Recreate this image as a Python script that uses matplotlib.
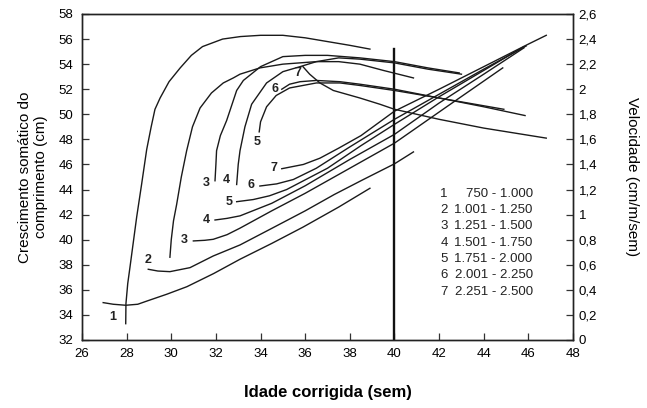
import matplotlib
matplotlib.use("Agg")
import matplotlib.pyplot as plt

plt.rcParams['font.family'] = ['Liberation Sans', 'DejaVu Sans']

# growth curves (cm), left axis
g1_x = [26.95, 27.4, 27.96, 28.5, 28.9, 29.8, 30.7, 31.9, 33.08, 34.5, 35.9, 37.5, 38.9]
g1_y = [34.98, 34.85, 34.77, 34.85, 35.1, 35.65, 36.25, 37.3, 38.44, 39.7, 41.0, 42.6, 44.1]
g2_x = [28.97, 29.4, 29.94, 30.84, 31.88, 33.08, 34.5, 36.0, 37.3, 38.53, 40.0, 40.85]
g2_y = [37.64, 37.5, 37.45, 37.77, 38.7, 39.58, 40.9, 42.3, 43.6, 44.73, 46.05, 47.0]
g3_x = [30.99, 31.5, 31.88, 32.5, 33.08, 34.5, 36.0, 38.0, 40.0, 42.5, 44.85]
g3_y = [39.9, 39.95, 40.03, 40.4, 40.92, 42.3, 43.7, 45.7, 47.7, 50.8, 53.7]
g4_x = [31.96, 32.5, 33.08, 34.5, 36.0, 38.0, 40.0, 42.0, 44.0, 45.8]
g4_y = [41.57, 41.7, 41.9, 42.9, 44.3, 46.4, 48.4, 50.9, 53.2, 55.3]
g5_x = [32.93, 33.67, 34.4, 35.17, 37.0, 38.5, 40.0, 42.0, 44.0, 45.8]
g5_y = [43.03, 43.2, 43.5, 44.0, 45.7, 47.5, 49.2, 51.4, 53.5, 55.4]
g6_x = [33.97, 34.72, 35.47, 36.5, 38.0, 40.0, 42.0, 44.0, 45.9]
g6_y = [44.28, 44.45, 44.8, 45.7, 47.4, 49.6, 51.6, 53.6, 55.45]
g7_x = [34.95, 35.92, 36.66, 37.5, 38.5, 40.0, 42.0, 44.0, 46.0, 46.8]
g7_y = [45.66, 46.0, 46.5, 47.3, 48.3, 50.25, 52.0, 53.8, 55.6, 56.3]

# velocity curves (cm/m/sem), right axis
v1_x = [27.96, 27.97, 28.05, 28.15, 28.3, 28.45, 28.67, 28.9, 29.1, 29.27, 29.5, 29.9, 30.4,
        30.9, 31.4, 32.3, 33.1, 34.0, 35.0, 36.0, 37.0, 38.0, 38.9]
v1_y = [0.13, 0.29, 0.45, 0.58, 0.78, 0.98, 1.24, 1.52, 1.70, 1.84, 1.93, 2.06, 2.17,
        2.27, 2.34, 2.40, 2.42, 2.43, 2.43, 2.41, 2.38, 2.35, 2.32]
v2_x = [29.94, 30.0, 30.1, 30.24, 30.45, 30.69, 30.95, 31.29, 31.8, 32.33, 32.78, 33.08,
        33.97, 35.0, 36.5, 37.5, 38.45, 39.5, 40.85]
v2_y = [0.66, 0.8, 0.95, 1.08, 1.3, 1.51, 1.7, 1.85, 1.97, 2.05, 2.09, 2.12,
        2.17, 2.2, 2.22, 2.22, 2.20, 2.15, 2.09]
v3_x = [31.96, 32.0, 32.03, 32.2, 32.48, 32.93, 33.23, 34.0, 35.0, 36.0, 37.0, 38.45,
        40.0, 41.5, 42.9]
v3_y = [1.27, 1.4, 1.51, 1.63, 1.75, 1.99, 2.07, 2.18, 2.26, 2.27, 2.27, 2.25,
        2.22, 2.17, 2.13]
v4_x = [32.93, 33.0, 33.08, 33.3, 33.6, 34.27, 35.0, 35.77, 36.5, 37.5, 38.45, 40.0,
        41.5, 43.0]
v4_y = [1.24, 1.4, 1.51, 1.7, 1.88, 2.05, 2.14, 2.18, 2.22, 2.25, 2.24, 2.21,
        2.16, 2.12]
v5_x = [33.94, 34.0, 34.27, 34.7, 35.3, 36.5, 37.56, 38.45, 40.0, 42.0, 44.9]
v5_y = [1.66, 1.74, 1.86, 1.95, 2.01, 2.05, 2.05, 2.03, 1.99, 1.93, 1.84]
v6_x = [34.95, 35.3, 35.77, 36.5, 37.56, 38.45, 40.0, 42.0, 44.0, 45.85]
v6_y = [2.0, 2.04, 2.06, 2.07, 2.06, 2.04, 2.0, 1.93, 1.86, 1.79]
v7_x = [35.9, 36.2, 36.66, 37.26, 38.45, 39.35, 40.0, 42.0, 44.0, 46.8]
v7_y = [2.18, 2.12, 2.05, 1.99, 1.93, 1.88, 1.84, 1.76, 1.69, 1.61]

# curve labels (x, y in cm)
label_text = ['1', '2', '3', '4', '5', '6', '7', '3', '4', '5', '6', '7']
label_x = [27.36, 28.97, 30.57, 31.59, 32.6, 33.57, 34.62, 31.59, 32.48, 33.86, 34.65, 35.69]
label_y = [33.85, 38.36, 39.98, 41.57, 43.0, 44.33, 45.74, 44.5, 44.73, 47.8, 51.98, 53.26]

legend_num = ['1', '2', '3', '4', '5', '6', '7']
legend_range = ['750 - 1.000', '1.001 - 1.250', '1.251 - 1.500', '1.501 - 1.750',
                '1.751 - 2.000', '2.001 - 2.250', '2.251 - 2.500']
legend_y = [43.67, 42.39, 41.07, 39.76, 38.44, 37.19, 35.86]

fig = plt.figure(figsize=(6.47, 4.08), dpi=100)
ax = fig.add_axes([0.1267, 0.1667, 0.759, 0.799])
ax2 = ax.twinx()

lw = 1.0
for gx, gy in [(g1_x, g1_y), (g2_x, g2_y), (g3_x, g3_y), (g4_x, g4_y),
               (g5_x, g5_y), (g6_x, g6_y), (g7_x, g7_y)]:
    ax.plot(gx, gy, color='#1a1a1a', lw=lw)
for vx, vy in [(v1_x, v1_y), (v2_x, v2_y), (v3_x, v3_y), (v4_x, v4_y),
               (v5_x, v5_y), (v6_x, v6_y), (v7_x, v7_y)]:
    ax2.plot(vx, vy, color='#1a1a1a', lw=lw)

# vertical reference line at 40 weeks
ax.plot([40, 40], [32, 55.2], color='#111111', lw=1.7)

for t, x, y in zip(label_text, label_x, label_y):
    ax.text(x, y, t, fontsize=9, fontweight='bold', ha='center', va='center',
            color='#222222')

for n, r, y in zip(legend_num, legend_range, legend_y):
    ax.text(42.22, y, n, fontsize=9.5, ha='center', va='center', color='#222222')
    ax.text(46.19, y, r, fontsize=9.5, ha='right', va='center', color='#222222')

ax.set_xlim(26, 48)
ax.set_ylim(32, 58)
ax.set_xticks(range(26, 49, 2))
ax.set_yticks(range(32, 59, 2))
ax2.set_ylim(0, 2.6)
vt = [i * 0.2 for i in range(14)]
ax2.set_yticks(vt)
ax2.set_yticklabels([('%g' % round(v, 1)).replace('.', ',') for v in vt])

ax.tick_params(direction='in', length=5, width=0.9, labelsize=9.5, color='#333333')
ax.tick_params(axis='x', pad=6)
ax.tick_params(axis='y', pad=6)
ax2.tick_params(direction='in', length=5, width=0.9, labelsize=9.5, pad=4, color='#333333')
for a in (ax, ax2):
    for s in a.spines.values():
        s.set_linewidth(1.0)
        s.set_color('#222222')

ax.set_xlabel('Idade corrigida (sem)', fontsize=12, fontweight='bold', labelpad=18)
ax.set_ylabel('Crescimento somático do\ncomprimento (cm)', fontsize=11, labelpad=8)
ax2.set_ylabel('Velocidade (cm/m/sem)', fontsize=11, rotation=270, labelpad=30)

fig.savefig('out.png', dpi=100)
